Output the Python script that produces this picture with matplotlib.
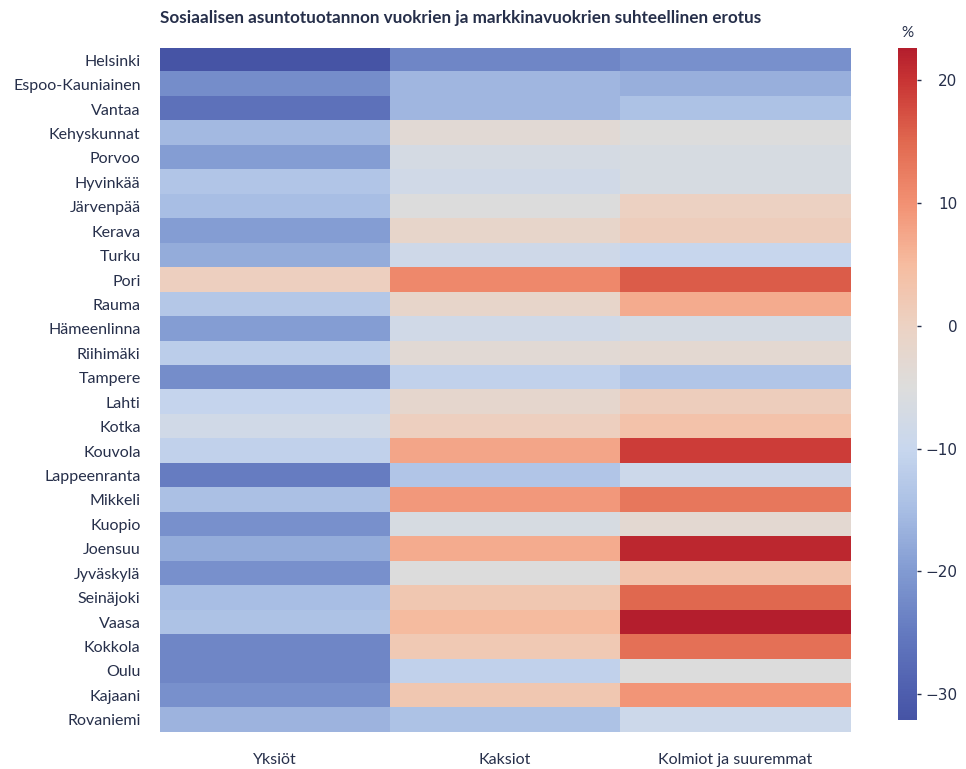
import numpy as np
import matplotlib
matplotlib.use('Agg')
import matplotlib.pyplot as plt
from matplotlib.colors import LinearSegmentedColormap


# Kunnat / alueet (rivit)
kunnat = ['Helsinki', 'Espoo-Kauniainen', 'Vantaa', 'Kehyskunnat', 'Porvoo',
          'Hyvinkää', 'Järvenpää', 'Kerava', 'Turku', 'Pori', 'Rauma',
          'Hämeenlinna', 'Riihimäki', 'Tampere', 'Lahti', 'Kotka', 'Kouvola',
          'Lappeenranta', 'Mikkeli', 'Kuopio', 'Joensuu', 'Jyväskylä',
          'Seinäjoki', 'Vaasa', 'Kokkola', 'Oulu', 'Kajaani', 'Rovaniemi']

# Huoneistotyypit (sarakkeet)
tyypit = ['Yksiöt', 'Kaksiot', 'Kolmiot ja suuremmat']

# Suhteellinen erotus (%), luettu kuvasta
yksiot = [-32.1, -22, -26.5, -15.5, -19.5, -13.5, -15, -19.5, -17.5, 0.5, -13,
          -19.5, -12, -22, -10.5, -8, -11, -24.5, -14.5, -21.5, -17.5, -21.5,
          -15, -14, -23, -23, -21.5, -16.5]
kaksiot = [-23, -16, -16, -3.5, -7, -8, -5, -1.5, -8.5, 11, -1.5, -8, -3.5, -11,
           -2, 0.5, 7.5, -13.5, 9, -6.5, 7, -5, 2.5, 5, 2, -11, 2.5, -14]
kolmiot = [-21.5, -17, -14, -5, -6.5, -6.5, 0, 1, -10, 16, 7, -7, -3, -13.5,
           1, 3.5, 19, -9, 13, -3, 21.5, 3, 15, 22.6, 14, -5, 9.5, -9]

data = np.column_stack([yksiot, kaksiot, kolmiot])

txt = '#262f4a'
plt.rcParams['font.family'] = ['Lato', 'DejaVu Sans']

# väriskaala luettu kuvan väripalkista (haalea coolwarm)
vmin, vmax = data.min(), data.max()
ankkurit = [(-32.1, (70, 84, 165)), (-30, (78, 94, 174)), (-25, (100, 122, 192)),
            (-20, (130, 155, 210)), (-15, (168, 190, 228)), (-10, (200, 215, 238)),
            (-5, (221, 221, 220)), (0, (236, 210, 195)), (5, (246, 188, 160)),
            (10, (242, 145, 115)), (15, (225, 105, 80)), (20, (200, 52, 52)),
            (22.6, (180, 30, 45))]
cmap = LinearSegmentedColormap.from_list(
    'haalea', [((v - vmin) / (vmax - vmin), tuple(c / 255 for c in rgb))
               for v, rgb in ankkurit])

fig = plt.figure(figsize=(9.66, 7.69), dpi=100)
ax = fig.add_axes([0.1656, 0.0481, 0.7143, 0.8895])
cax = fig.add_axes([0.9296, 0.0637, 0.0197, 0.8739])

im = ax.imshow(data, cmap=cmap, aspect='auto', interpolation='nearest',
               vmin=vmin, vmax=vmax)

ax.set_yticks(range(len(kunnat)))
ax.set_yticklabels(kunnat, fontsize=11.5, color=txt)
ax.set_xticks(range(len(tyypit)))
ax.set_xticklabels(tyypit, fontsize=11.5, color=txt)
ax.tick_params(length=0, axis='y', pad=14)
ax.tick_params(length=0, axis='x', pad=15)
for s in ax.spines.values():
    s.set_visible(False)

ax.set_title('Sosiaalisen asuntotuotannon vuokrien ja markkinavuokrien suhteellinen erotus',
             loc='left', fontsize=12.3, fontweight='bold', color=txt, pad=18)

cb = fig.colorbar(im, cax=cax)
cb.outline.set_visible(False)
cb.set_ticks([-30, -20, -10, 0, 10, 20])
cax.tick_params(length=3, width=1, color=txt, labelcolor=txt, labelsize=11)
for lab in cax.get_yticklabels():
    lab.set_fontfamily('DejaVu Sans')
    lab.set_horizontalalignment('right')
cax.tick_params(pad=26)
cax.set_title('%', fontsize=11, color=txt, pad=8)

fig.savefig('out.png', dpi=100)
